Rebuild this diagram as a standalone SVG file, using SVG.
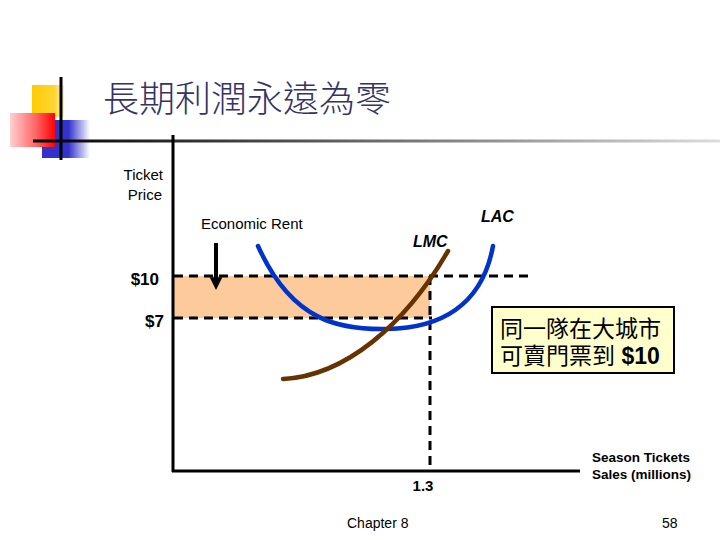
<svg xmlns="http://www.w3.org/2000/svg" width="720" height="540" viewBox="0 0 720 540">
<defs>
<linearGradient id="gy" x1="0" y1="0" x2="1" y2="0"><stop offset="0" stop-color="#FFCC00"/><stop offset="0.7" stop-color="#FFD633"/><stop offset="1" stop-color="#FFF3C0"/></linearGradient>
<linearGradient id="gr" x1="0" y1="0" x2="1" y2="0"><stop offset="0" stop-color="#FFD0D0"/><stop offset="0.6" stop-color="#FF6060"/><stop offset="1" stop-color="#FF0000"/></linearGradient>
<linearGradient id="gb" x1="0" y1="0" x2="1" y2="0"><stop offset="0" stop-color="#3333CC"/><stop offset="0.55" stop-color="#3333CC"/><stop offset="1" stop-color="#FFFFFF"/></linearGradient>
<linearGradient id="gl" x1="0" y1="0" x2="1" y2="0"><stop offset="0" stop-color="#000000"/><stop offset="0.4" stop-color="#555555"/><stop offset="1" stop-color="#DDDDDD"/></linearGradient>
<marker id="ah" markerWidth="4" markerHeight="4" refX="2.2" refY="2" orient="auto" markerUnits="strokeWidth"><path d="M0,0.4 L3.2,2 L0,3.6 Z" fill="#000"/></marker>
</defs>
<style>
.t{font-family:"Liberation Sans",Arial,sans-serif;fill:#000}
.b{font-weight:bold}
.cjk{font-family:"Liberation Sans","Noto Sans CJK TC",sans-serif}
.dash{stroke:#000;stroke-width:3;stroke-dasharray:9,6;fill:none}
.axis{stroke:#000;stroke-width:3;fill:none}
.curve{fill:none;stroke-width:4.5;stroke-linecap:round}
</style>
<g id="title-deco">
<rect x="32" y="85" width="32" height="32" fill="url(#gy)"/>
<rect x="42" y="120" width="48" height="38" fill="url(#gb)"/>
<rect x="10" y="113" width="45" height="34" fill="url(#gr)"/>
<line x1="61" y1="77" x2="61" y2="160" stroke="#000" stroke-width="3"/>
<rect x="33" y="139.5" width="687" height="3" fill="url(#gl)"/>
</g>
<g id="title"><text x="103" y="112" font-family="'Noto Sans CJK TC',sans-serif" font-weight="300" font-size="36" fill="#333366">長期利潤永遠為零</text></g>
<g id="rent-area"><rect x="174" y="276" width="256" height="42" fill="#FDCA9B"/></g>
<g id="connectors">
<line class="dash" x1="174" y1="276" x2="532" y2="276"/>
<line class="dash" x1="174" y1="318" x2="432" y2="318"/>
<line class="dash" x1="430" y1="276" x2="430" y2="470"/>
<line x1="216" y1="243" x2="216" y2="286" stroke="#000" stroke-width="4" marker-end="url(#ah)"/>
</g>
<g id="axes">
<line class="axis" x1="173" y1="135" x2="173" y2="472"/>
<line class="axis" x1="172" y1="471" x2="580" y2="471"/>
</g>
<g id="LAC"><path class="curve" stroke="#0033CC" d="M258,246 C292,322 340,330 387,329 C440,328 482,306 493,246"/>
<text class="t b" x="481" y="222" font-size="16" font-style="italic">LAC</text></g>
<g id="LMC"><path class="curve" stroke="#663300" d="M283,379 C345,376 405,325 448,251"/>
<text class="t b" x="413" y="247" font-size="16" font-style="italic">LMC</text></g>
<g id="labels">
<text class="t" x="163" y="180" font-size="15" text-anchor="end">Ticket</text>
<text class="t" x="162" y="200" font-size="15" text-anchor="end">Price</text>
<text class="t" x="201" y="229" font-size="15">Economic Rent</text>
<text class="t b" x="159" y="285" font-size="17" text-anchor="end">$10</text>
<text class="t b" x="164" y="327" font-size="17" text-anchor="end">$7</text>
<text class="t b" x="423" y="491" font-size="15" text-anchor="middle">1.3</text>
<text class="t b" x="592" y="462" font-size="13.5">Season Tickets</text>
<text class="t b" x="592" y="479" font-size="13.5">Sales (millions)</text>
<text class="t" x="347" y="528" font-size="14" fill="#222">Chapter 8</text>
<text class="t" x="662" y="528" font-size="14" fill="#222">58</text>
</g>
<g id="note">
<rect x="492" y="307" width="182" height="66" fill="#FFFFCC" stroke="#000" stroke-width="2"/>
<text class="t cjk" x="500" y="337" font-size="23">同一隊在大城市</text>
<text class="t cjk" x="500" y="364" font-size="23">可賣門票到 <tspan class="b">$10</tspan></text>
</g>
</svg>
